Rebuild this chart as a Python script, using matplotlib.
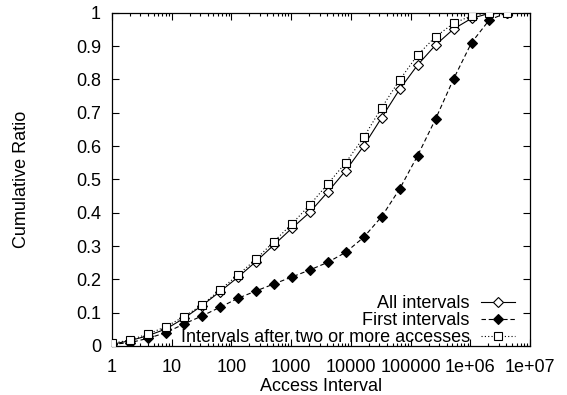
import numpy as np
import matplotlib
matplotlib.use("Agg")
import matplotlib.pyplot as plt
from matplotlib.legend_handler import HandlerLine2D
from matplotlib.ticker import LogLocator, NullFormatter

plt.rcParams['font.family'] = ['Liberation Sans', 'DejaVu Sans']

# Access intervals: powers of two, 2^0 .. 2^22
intervals = [2 ** k for k in range(23)]

all_intervals = [0.005, 0.016, 0.031, 0.051, 0.083, 0.121, 0.163, 0.206, 0.253,
                 0.303, 0.353, 0.401, 0.462, 0.526, 0.600, 0.685, 0.770, 0.843,
                 0.903, 0.951, 0.983, 0.998, 1.000]
first_intervals = [0.005, 0.010, 0.023, 0.040, 0.066, 0.090, 0.116, 0.143, 0.165,
                   0.186, 0.207, 0.228, 0.251, 0.281, 0.326, 0.388, 0.471, 0.571,
                   0.681, 0.801, 0.910, 0.979, 1.000]
after_two = [0.008, 0.018, 0.036, 0.058, 0.088, 0.123, 0.168, 0.213, 0.260,
             0.313, 0.366, 0.423, 0.486, 0.550, 0.626, 0.715, 0.798, 0.873,
             0.928, 0.968, 0.991, 1.000, 1.000]

labels = ["All intervals", "First intervals",
          "Intervals after two or more accesses"]

xticks = [1, 10, 100, 1000, 10000, 100000, 1e6, 1e7]
xticklabels = ["1", "10", "100", "1000", "10000", "100000", "1e+06", "1e+07"]
yticks = [0, 0.1, 0.2, 0.3, 0.4, 0.5, 0.6, 0.7, 0.8, 0.9, 1]
yticklabels = ["0", "0.1", "0.2", "0.3", "0.4", "0.5", "0.6", "0.7", "0.8", "0.9", "1"]

fig = plt.figure(figsize=(5.67, 3.95), dpi=100)
ax = fig.add_axes([112 / 567, 49 / 395, 418 / 567, 333.3 / 395])

lw = 0.8
ax.plot(intervals, all_intervals, color='black', lw=lw, ls='-',
        marker='D', ms=5.2, mfc='white', mec='black', mew=0.8,
        label=labels[0], zorder=3)
ax.plot(intervals, first_intervals, color='black', lw=lw, ls=(0, (4, 2.5)),
        marker='D', ms=5.2, mfc='black', mec='black', mew=0.8,
        label=labels[1], zorder=3)
ax.plot(intervals, after_two, color='black', lw=lw, ls=(0, (1, 2)),
        marker='s', ms=5.6, mfc='white', mec='black', mew=0.8,
        label=labels[2], zorder=4)

ax.set_xscale('log')
ax.set_xlim(1, 1e7)
ax.set_ylim(0, 1)
ax.set_xticks(xticks)
ax.set_xticklabels(xticklabels)
ax.xaxis.set_minor_locator(LogLocator(base=10, subs=np.arange(2, 10), numticks=100))
ax.xaxis.set_minor_formatter(NullFormatter())
ax.set_yticks(yticks)
ax.set_yticklabels(yticklabels)

ax.tick_params(which='both', direction='in', top=True, right=True,
               labelsize=13, width=0.8)
ax.tick_params(which='major', length=5)
ax.tick_params(which='minor', length=2.5)
ax.tick_params(axis='x', which='major', pad=9)
ax.tick_params(axis='y', which='major', pad=8)
for s in ax.spines.values():
    s.set_linewidth(0.9)

ax.set_xlabel("Access Interval", fontsize=13, labelpad=2)
ax.set_ylabel("Cumulative Ratio", fontsize=13)
ax.yaxis.set_label_coords(-0.196, 0.5)


class SideHandler(HandlerLine2D):
    def get_xdata(self, legend, xdescent, ydescent, width, height, fontsize):
        xdata = np.array([-xdescent, -xdescent + width])
        return xdata, np.array([-xdescent + 0.27 * width])


handles, labs = ax.get_legend_handles_labels()
leg = ax.legend(handles, labs, loc='lower right', bbox_to_anchor=(0.964, 0.0),
                frameon=False, markerfirst=False, fontsize=13,
                handlelength=1.9, handletextpad=0.6, labelspacing=0.0,
                borderpad=0.0, borderaxespad=0.0,
                handler_map={h: SideHandler(numpoints=1) for h in handles})

fig.savefig("out.png", dpi=100)
